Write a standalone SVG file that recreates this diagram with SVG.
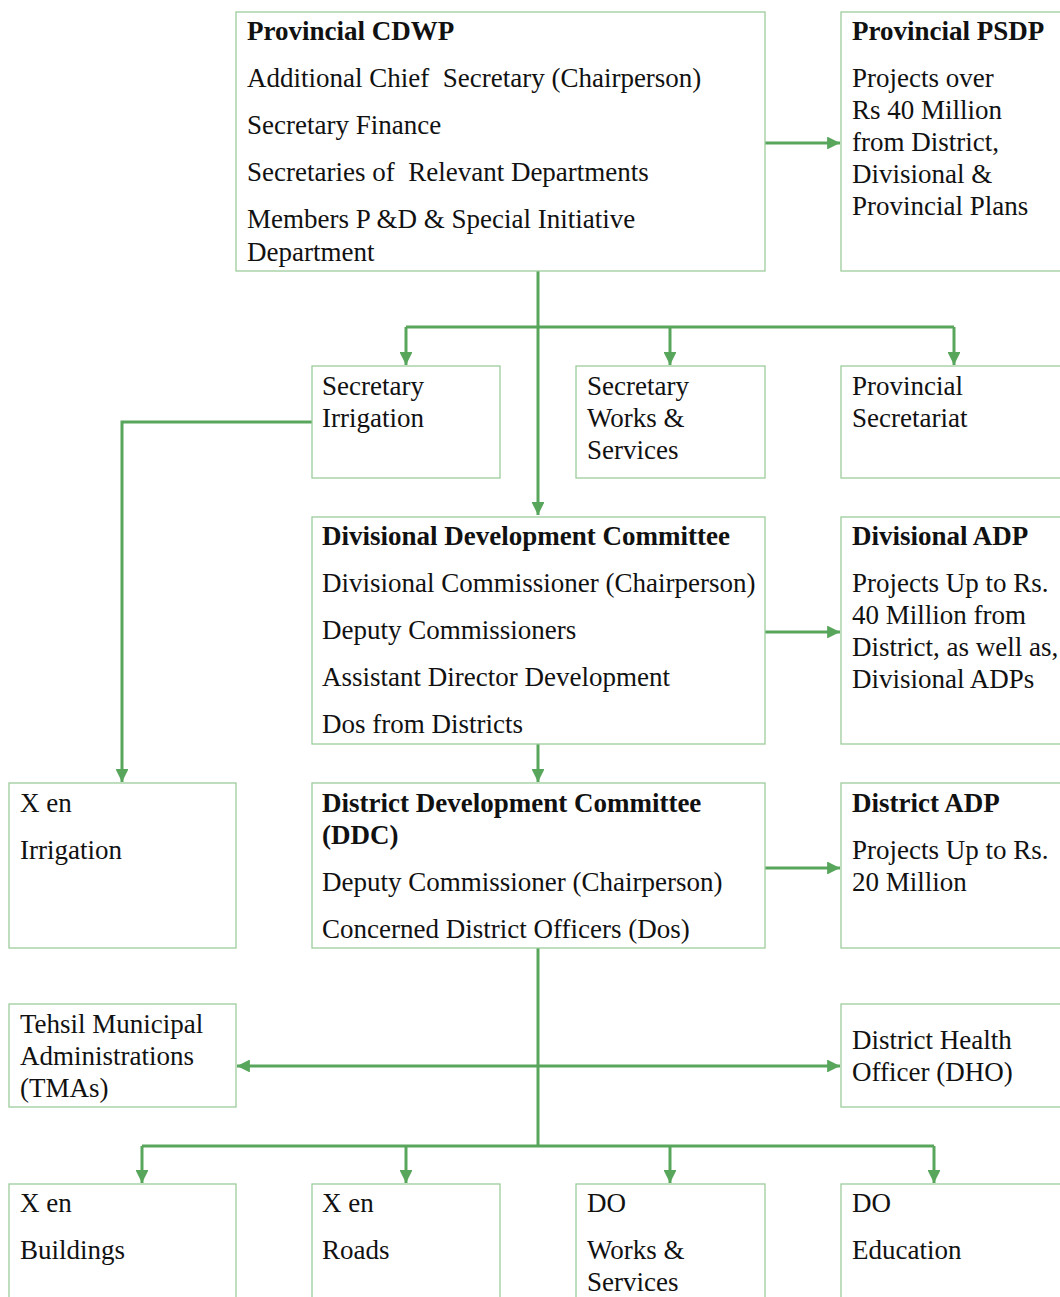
<svg xmlns="http://www.w3.org/2000/svg" width="1060" height="1297" viewBox="0 0 1060 1297">
  <style>
    .box { fill: #ffffff; stroke: #9ccc9c; stroke-width: 1.3; }
    .t { font-family: "Liberation Serif", "Times New Roman", serif; font-size: 27px; fill: #111111; }
    .b { font-weight: bold; }
    .wire { fill: none; stroke: #58a55c; stroke-width: 3; }
  </style>
  <defs>
    <marker id="arrow" viewBox="0 0 10 10" refX="10" refY="5" markerWidth="4.7" markerHeight="4.3" markerUnits="strokeWidth" orient="auto-start-reverse">
      <path d="M0,0 L10,5 L0,10 z" fill="#58a55c"/>
    </marker>
  </defs>
  <rect width="1060" height="1297" fill="#ffffff"/>

  <!-- connectors -->
  <g id="connectors">
    <path class="wire" d="M765,143 H840" marker-end="url(#arrow)"/>
    <path class="wire" d="M538,271 V515" marker-end="url(#arrow)"/>
    <path class="wire" d="M406,327 H954"/>
    <path class="wire" d="M406,327 V365" marker-end="url(#arrow)"/>
    <path class="wire" d="M670,327 V365" marker-end="url(#arrow)"/>
    <path class="wire" d="M954,327 V365" marker-end="url(#arrow)"/>
    <path class="wire" d="M312,422 H122 V782" marker-end="url(#arrow)"/>
    <path class="wire" d="M765,632 H840" marker-end="url(#arrow)"/>
    <path class="wire" d="M538,744 V782" marker-end="url(#arrow)"/>
    <path class="wire" d="M765,868 H840" marker-end="url(#arrow)"/>
    <path class="wire" d="M538,948 V1146"/>
    <path class="wire" d="M237,1066 H840" marker-start="url(#arrow)" marker-end="url(#arrow)"/>
    <path class="wire" d="M142,1146 H934"/>
    <path class="wire" d="M142,1146 V1183" marker-end="url(#arrow)"/>
    <path class="wire" d="M406,1146 V1183" marker-end="url(#arrow)"/>
    <path class="wire" d="M670,1146 V1183" marker-end="url(#arrow)"/>
    <path class="wire" d="M934,1146 V1183" marker-end="url(#arrow)"/>
  </g>

  <g id="provincial-cdwp">
    <rect class="box" x="236" y="12" width="529" height="259"/>
    <text class="t b" x="247" y="40">Provincial CDWP</text>
    <text class="t" x="247" y="87" xml:space="preserve">Additional Chief  Secretary (Chairperson)</text>
    <text class="t" x="247" y="134">Secretary Finance</text>
    <text class="t" x="247" y="181" xml:space="preserve">Secretaries of  Relevant Departments</text>
    <text class="t" x="247" y="228">Members P &amp;D &amp; Special Initiative</text>
    <text class="t" x="247" y="261">Department</text>
  </g>

  <g id="provincial-psdp">
    <rect class="box" x="841" y="12" width="230" height="259"/>
    <text class="t b" x="852" y="40">Provincial PSDP</text>
    <text class="t" x="852" y="87">Projects over</text>
    <text class="t" x="852" y="119">Rs 40 Million</text>
    <text class="t" x="852" y="151">from District,</text>
    <text class="t" x="852" y="183">Divisional &amp;</text>
    <text class="t" x="852" y="215">Provincial Plans</text>
  </g>

  <g id="secretary-irrigation">
    <rect class="box" x="312" y="366" width="188" height="112"/>
    <text class="t" x="322" y="395">Secretary</text>
    <text class="t" x="322" y="427">Irrigation</text>
  </g>

  <g id="secretary-works">
    <rect class="box" x="576" y="366" width="189" height="112"/>
    <text class="t" x="587" y="395">Secretary</text>
    <text class="t" x="587" y="427">Works &amp;</text>
    <text class="t" x="587" y="459">Services</text>
  </g>

  <g id="provincial-secretariat">
    <rect class="box" x="841" y="366" width="230" height="112"/>
    <text class="t" x="852" y="395">Provincial</text>
    <text class="t" x="852" y="427">Secretariat</text>
  </g>

  <g id="divisional-committee">
    <rect class="box" x="312" y="517" width="453" height="227"/>
    <text class="t b" x="322" y="545">Divisional Development Committee</text>
    <text class="t" x="322" y="592">Divisional Commissioner (Chairperson)</text>
    <text class="t" x="322" y="639">Deputy Commissioners</text>
    <text class="t" x="322" y="686">Assistant Director Development</text>
    <text class="t" x="322" y="733">Dos from Districts</text>
  </g>

  <g id="divisional-adp">
    <rect class="box" x="841" y="517" width="230" height="227"/>
    <text class="t b" x="852" y="545">Divisional ADP</text>
    <text class="t" x="852" y="592">Projects Up to Rs.</text>
    <text class="t" x="852" y="624">40 Million from</text>
    <text class="t" x="852" y="656">District, as well as,</text>
    <text class="t" x="852" y="688">Divisional ADPs</text>
  </g>

  <g id="xen-irrigation">
    <rect class="box" x="9" y="783" width="227" height="165"/>
    <text class="t" x="20" y="812">X en</text>
    <text class="t" x="20" y="859">Irrigation</text>
  </g>

  <g id="district-committee">
    <rect class="box" x="312" y="783" width="453" height="165"/>
    <text class="t b" x="322" y="812">District Development Committee</text>
    <text class="t b" x="322" y="844">(DDC)</text>
    <text class="t" x="322" y="891">Deputy Commissioner (Chairperson)</text>
    <text class="t" x="322" y="938">Concerned District Officers (Dos)</text>
  </g>

  <g id="district-adp">
    <rect class="box" x="841" y="783" width="230" height="165"/>
    <text class="t b" x="852" y="812">District ADP</text>
    <text class="t" x="852" y="859">Projects Up to Rs.</text>
    <text class="t" x="852" y="891">20 Million</text>
  </g>

  <g id="tehsil-tmas">
    <rect class="box" x="9" y="1004" width="227" height="103"/>
    <text class="t" x="20" y="1033">Tehsil Municipal</text>
    <text class="t" x="20" y="1065">Administrations</text>
    <text class="t" x="20" y="1097">(TMAs)</text>
  </g>

  <g id="district-health-officer">
    <rect class="box" x="841" y="1004" width="230" height="103"/>
    <text class="t" x="852" y="1049">District Health</text>
    <text class="t" x="852" y="1081">Officer (DHO)</text>
  </g>

  <g id="xen-buildings">
    <rect class="box" x="9" y="1184" width="227" height="130"/>
    <text class="t" x="20" y="1212">X en</text>
    <text class="t" x="20" y="1259">Buildings</text>
  </g>

  <g id="xen-roads">
    <rect class="box" x="312" y="1184" width="188" height="130"/>
    <text class="t" x="322" y="1212">X en</text>
    <text class="t" x="322" y="1259">Roads</text>
  </g>

  <g id="do-works">
    <rect class="box" x="576" y="1184" width="189" height="130"/>
    <text class="t" x="587" y="1212">DO</text>
    <text class="t" x="587" y="1259">Works &amp;</text>
    <text class="t" x="587" y="1291">Services</text>
  </g>

  <g id="do-education">
    <rect class="box" x="841" y="1184" width="230" height="130"/>
    <text class="t" x="852" y="1212">DO</text>
    <text class="t" x="852" y="1259">Education</text>
  </g>
</svg>
